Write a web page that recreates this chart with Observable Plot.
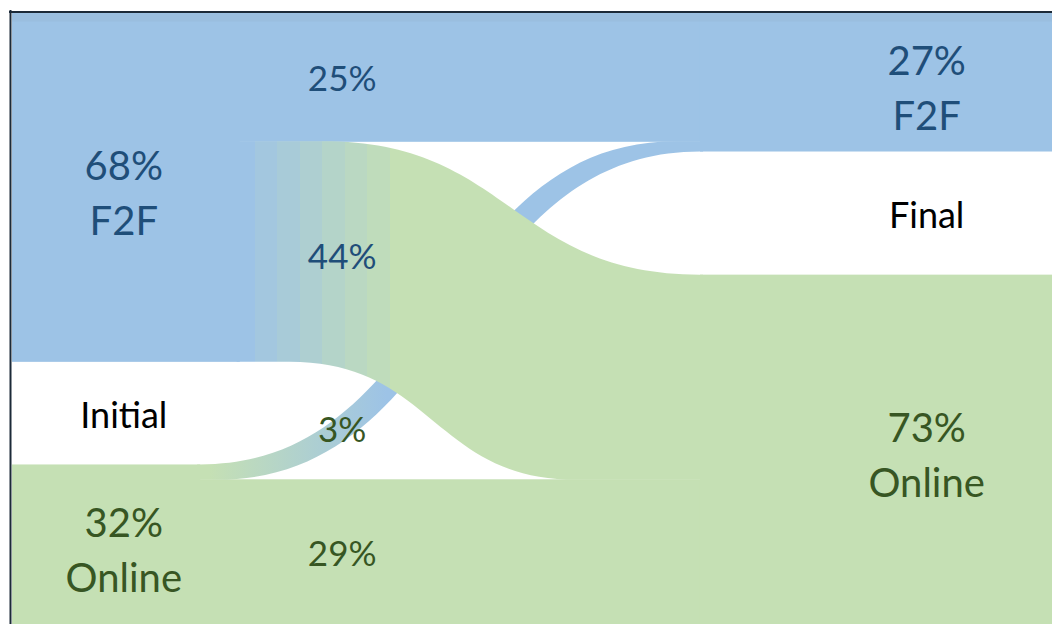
<!DOCTYPE html>
<html>
<head>
<meta charset="utf-8">
<script src="https://cdn.jsdelivr.net/npm/d3@7"></script>
<script src="https://cdn.jsdelivr.net/npm/@observablehq/plot@0.6"></script>
<style>
  html, body { margin: 0; padding: 0; background: #fff; overflow: hidden; }
  #chart svg { display: block; }
</style>
</head>
<body>
<div id="chart"></div>
<script>
// ---------------- data ----------------
const stages = ["Initial", "Final"];
const modes = ["F2F", "Online"];
const initialShare = [68, 32];
const finalShare = [27, 73];
const flowFrom = ["F2F", "F2F", "Online", "Online"];
const flowTo = ["F2F", "Online", "F2F", "Online"];
const flowShare = [25, 44, 3, 29];

// ---------------- layout / style (not data) ----------------
const W = 1052, H = 624;
const gapInitial = 20, gapFinal = 24;   // blank band between the two nodes, in % units
const yMax = 119.1;                    // visible part of the vertical % scale
const colors = {F2F: "#9DC3E6", Online: "#C5E0B4"};
const textColors = {F2F: "#1F4E79", Online: "#375623"};
const leftNodeEnd = {F2F: 0.219, Online: 0.181};
const rightNodeStart = 0.6615;
const crossGeom = {
  "F2F>Online": {top: [0.299, 0.6615], bottom: [0.267, 0.543], grad: [0.2115, 0.385], steps: 8},
  "Online>F2F": {top: [0.181, 0.639], bottom: [0.197, 0.6615], grad: [0.19, 0.36], steps: 0}
};
const leftLabelX = 0.107, flowLabelX = 0.317, rightLabelX = 0.879;
const font = "Lato, 'Open Sans', sans-serif";
const overlap = 0.003;

// ---------------- derived layout ----------------
function stack(shares, gap) {
  let y = 0; const out = {};
  modes.forEach((m, i) => { out[m] = [y, y + shares[i]]; y += shares[i] + gap; });
  return out;
}
const leftNodes = stack(initialShare, gapInitial);
const rightNodes = stack(finalShare, gapFinal);

const flows = flowShare.map((v, i) => ({from: flowFrom[i], to: flowTo[i], value: v}));
const outOff = {F2F: 0, Online: 0}, inOff = {F2F: 0, Online: 0};
flows.forEach(f => {
  const s = leftNodes[f.from], t = rightNodes[f.to];
  f.l0 = s[0] + outOff[f.from]; f.l1 = Math.min(f.l0 + f.value, s[1]); outOff[f.from] += f.value;
  f.r0 = t[0] + inOff[f.to]; f.r1 = Math.min(f.r0 + f.value, t[1]); inOff[f.to] += f.value;
});
const straight = flows.filter(f => f.from === f.to);
const crossing = flows.filter(f => f.from !== f.to);

crossing.forEach((f, i) => {
  const g = crossGeom[f.from + ">" + f.to];
  const band = straight.find(s => s.from === f.to);
  let rb = f.r1;
  if (band && band.l0 > f.r0 && band.l0 < f.r1) rb = band.l0;  // merges into the straight band
  const x0 = leftNodeEnd[f.from] - overlap;
  const xe = Math.max(g.top[1], g.bottom[1], rightNodeStart) + overlap;
  f.top = [[x0, f.l0], [g.top[0], f.l0], [g.top[1], f.r0], [xe, f.r0]];
  f.bottom = [[x0, f.l1], [g.bottom[0], f.l1], [g.bottom[1], rb], [xe, rb]];
  f.rows = f.top.map((p, k) => ({x1: f.bottom[k][0], y1: f.bottom[k][1], x2: p[0], y2: p[1]}));
  f.geom = g;
  f.gid = "flowgrad" + i;
});

// y of a bump-x edge at given x
function edgeY(pts, x) {
  for (let k = 0; k < pts.length - 1; k++) {
    const [xa, ya] = pts[k], [xb, yb] = pts[k + 1];
    if (xb <= xa) continue;
    if (x >= xa && x <= xb) {
      const fx = (x - xa) / (xb - xa);
      let lo = 0, hi = 1;
      for (let it = 0; it < 40; it++) {
        const t = (lo + hi) / 2;
        const v = 1.5 * t - 1.5 * t * t + t * t * t;
        if (v < fx) lo = t; else hi = t;
      }
      const t = (lo + hi) / 2;
      return ya + (yb - ya) * (3 * t * t - 2 * t * t * t);
    }
  }
  return x < pts[0][0] ? pts[0][1] : pts[pts.length - 1][1];
}

// ---------------- label tables ----------------
const clipMid = ([a, b]) => (a + Math.min(b, yMax)) / 2;
const nodeRows = [];
modes.forEach((m, i) => {
  nodeRows.push({mode: m, x1: 0, x2: leftNodeEnd[m], y1: leftNodes[m][0], y2: leftNodes[m][1]});
  nodeRows.push({mode: m, x1: rightNodeStart, x2: 1, y1: rightNodes[m][0], y2: rightNodes[m][1]});
});
const nodeLabels = [];
modes.forEach((m, i) => {
  nodeLabels.push({x: leftLabelX, y: clipMid(leftNodes[m]), text: `${initialShare[i]}%\n${m}`, color: textColors[m]});
  nodeLabels.push({x: rightLabelX, y: clipMid(rightNodes[m]), text: `${finalShare[i]}%\n${m}`, color: textColors[m]});
});
const stageLabels = [
  {x: leftLabelX, y: (leftNodes.F2F[1] + leftNodes.Online[0]) / 2, text: stages[0]},
  {x: rightLabelX, y: (rightNodes.F2F[1] + rightNodes.Online[0]) / 2, text: stages[1]}
];
const flowLabels = flows.map(f => {
  let y;
  if (f.from === f.to) y = clipMid([f.l0, f.l1]);
  else y = (edgeY(f.top, flowLabelX) + edgeY(f.bottom, flowLabelX)) / 2;
  return {x: flowLabelX, y, text: `${f.value}%`, color: textColors[f.from]};
});

// ---------------- chart ----------------
const marks = [
  Plot.rect(straight, {x1: 0, x2: 1, y1: "l0", y2: "l1", fill: d => colors[d.from], stroke: d => colors[d.from], strokeWidth: 1, clip: true}),
  Plot.rect(nodeRows, {x1: "x1", x2: "x2", y1: "y1", y2: "y2", fill: d => colors[d.mode], clip: true}),
  // faint shaded edge along the top of the frame
  Plot.ruleY([0], {x1: 0, x2: 1, stroke: "#8fa9c2", strokeOpacity: 0.2, strokeWidth: 8, dy: 4})
];
// draw the thin flow first so the wide one passes over it
[...crossing].sort((a, b) => a.value - b.value).forEach(f => {
  marks.push(Plot.area(f.rows, {x1: "x1", y1: "y1", x2: "x2", y2: "y2", curve: "bump-x", fill: `url(#${f.gid})`, clip: true}));
});
marks.push(
  Plot.text(flowLabels, {x: "x", y: "y", text: "text", fill: "color", fontSize: 35, fontFamily: font, dy: 2}),
  Plot.text(nodeLabels, {x: "x", y: "y", text: "text", fill: "color", fontSize: 40, lineHeight: 1.375, fontFamily: font, dy: 2}),
  Plot.text(stageLabels, {x: "x", y: "y", text: "text", fill: "#000", fontSize: 36, fontFamily: font, dy: 3}),
  Plot.ruleX([0], {y1: 0, y2: yMax, stroke: "#1c2a38", strokeWidth: 2, dx: -2, insetTop: -3}),
  Plot.ruleY([0], {x1: 0, x2: 1, stroke: "#1c2a38", strokeWidth: 2, dy: -1.5, insetLeft: -3})
);

const chart = Plot.plot({
  width: W, height: H,
  marginLeft: 12, marginRight: 0, marginTop: 13, marginBottom: 0,
  x: {domain: [0, 1], axis: null},
  y: {domain: [0, yMax], reverse: true, axis: null},
  color: {type: "identity"},
  style: {background: "white", fontFamily: font},
  marks
});

// gradients for the crossing flows (positions from the x scale)
const xs = chart.scale("x");
const defs = d3.select(chart).insert("defs", ":first-child");
crossing.forEach(f => {
  const g = f.geom;
  const c0 = colors[f.from], c1 = colors[f.to];
  const lg = defs.append("linearGradient")
    .attr("id", f.gid).attr("gradientUnits", "userSpaceOnUse")
    .attr("x1", xs.apply(g.grad[0])).attr("x2", xs.apply(g.grad[1]))
    .attr("y1", 0).attr("y2", 0);
  if (g.steps > 1) {
    const ip = d3.interpolateRgb(c0, c1);
    for (let k = 0; k < g.steps; k++) {
      const c = ip(k / (g.steps - 1));
      lg.append("stop").attr("offset", k / g.steps).attr("stop-color", c);
      lg.append("stop").attr("offset", (k + 1) / g.steps).attr("stop-color", c);
    }
  } else {
    lg.append("stop").attr("offset", 0).attr("stop-color", c0);
    lg.append("stop").attr("offset", 1).attr("stop-color", c1);
  }
});

document.getElementById("chart").appendChild(chart);
</script>
</body>
</html>
